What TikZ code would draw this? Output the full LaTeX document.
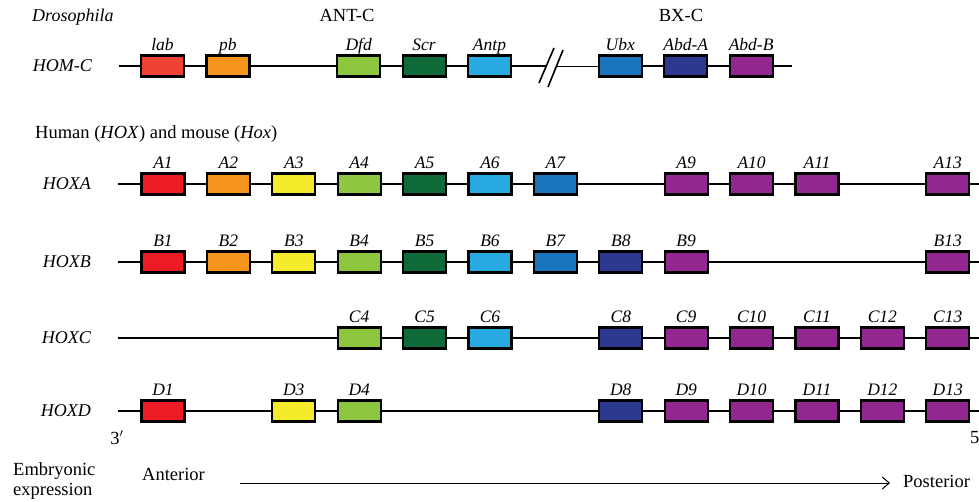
\documentclass[tikz,border=0pt]{standalone}
\usepackage{fontspec}
\setmainfont{Liberation Serif}
\usetikzlibrary{arrows.meta}
\definecolor{cLab}{HTML}{EF4136}
\definecolor{cRed}{HTML}{ED1C24}
\definecolor{cOrange}{HTML}{F7941D}
\definecolor{cYellow}{HTML}{F4EB2A}
\definecolor{cLgreen}{HTML}{8DC63F}
\definecolor{cDgreen}{HTML}{0F6A3A}
\definecolor{cLblue}{HTML}{27AAE1}
\definecolor{cMblue}{HTML}{1B75BC}
\definecolor{cDblue}{HTML}{2B3990}
\definecolor{cPurple}{HTML}{92278F}
\begin{document}
\begin{tikzpicture}[x=1pt,y=-1pt,
  gene/.style={draw=black, line width=2.2pt, minimum width=43pt, minimum height=21pt, inner sep=0pt, fill=#1},
  glab/.style={font=\fontsize{17.5}{17.5}\selectfont\itshape, inner sep=0pt, anchor=base},
  rowlab/.style={font=\fontsize{18}{18}\selectfont\itshape, inner sep=0pt, anchor=base east},
  txt/.style={font=\fontsize{18.5}{18.5}\selectfont, inner sep=0pt},
  chrom/.style={line width=2.5pt},
  thinchrom/.style={line width=1pt},
  slash/.style={line width=1.6pt}]
\useasboundingbox (0,0) rectangle (979,501);

% ---------- Drosophila ----------
\node[txt, font=\fontsize{18}{18}\selectfont\itshape, anchor=base west] (dros) at (32,21) {Drosophila};
\node[txt, anchor=base] (antc) at (347,21) {ANT-C};
\node[txt, anchor=base] (bxc) at (681,21) {BX-C};
\node[rowlab] (homc) at (92,71) {HOM-C};

\coordinate (homS) at (119,66);
\coordinate (homB1) at (546,66);
\coordinate (homB2) at (557,66);
\coordinate (homE) at (792,66);
\coordinate (s1a) at (539,83); \coordinate (s1b) at (554,48);
\coordinate (s2a) at (548,87); \coordinate (s2b) at (563,50);

\draw[chrom] (homS) -- (homB1);
\foreach \s/\c/\n/\t in {1/cLab/lab/lab, 2/cOrange/pb/pb, 4/cLgreen/dfd/Dfd, 5/cDgreen/scr/Scr, 6/cLblue/antp/Antp, 8/cMblue/ubx/Ubx, 9/cDblue/abda/Abd-A, 10/cPurple/abdb/Abd-B}{
  \node[gene=\c] (\n) at ({162.5+(\s-1)*65.4},66) {};
  \node[glab] (l\n) at ({162.5+(\s-1)*65.4},50) {\t};
}
\draw[thinchrom] (homB2) -- (ubx.west);
\draw[chrom] (ubx.east) -- (abda.west) (abda.east) -- (abdb.west);
\draw[chrom] (abdb.east) -- (homE);
\draw[chrom] (lab.east) -- (pb.west) (pb.east) -- (dfd.west) (dfd.east) -- (scr.west) (scr.east) -- (antp.west);
\draw[slash] (s1a) -- (s1b);
\draw[slash] (s2a) -- (s2b);

% ---------- Human / mouse ----------
\node[txt, anchor=base west] (hum) at (35,138) {Human (\textit{HOX}) and mouse (\textit{Hox})};

% HOXA
\node[rowlab] (hoxa) at (91,189) {HOXA};
\coordinate (aS) at (118,184); \coordinate (aE) at (985,184);
\draw[chrom] (aS) -- (aE);
\foreach \s/\c in {1/cRed, 2/cOrange, 3/cYellow, 4/cLgreen, 5/cDgreen, 6/cLblue, 7/cMblue, 9/cPurple, 10/cPurple, 11/cPurple, 13/cPurple}{
  \node[gene=\c] (a\s) at ({163+(\s-1)*65.4},184) {};
  \node[glab] (la\s) at ({163+(\s-1)*65.4},168) {A\s};
}

% HOXB
\node[rowlab] (hoxb) at (91,267) {HOXB};
\coordinate (bS) at (118,262); \coordinate (bE) at (985,262);
\draw[chrom] (bS) -- (bE);
\foreach \s/\c in {1/cRed, 2/cOrange, 3/cYellow, 4/cLgreen, 5/cDgreen, 6/cLblue, 7/cMblue, 8/cDblue, 9/cPurple, 13/cPurple}{
  \node[gene=\c] (b\s) at ({163+(\s-1)*65.4},262) {};
  \node[glab] (lb\s) at ({163+(\s-1)*65.4},246) {B\s};
}

% HOXC
\node[rowlab] (hoxc) at (91,343) {HOXC};
\coordinate (cS) at (118,338); \coordinate (cE) at (985,338);
\draw[chrom] (cS) -- (cE);
\foreach \s/\c in {4/cLgreen, 5/cDgreen, 6/cLblue, 8/cDblue, 9/cPurple, 10/cPurple, 11/cPurple, 12/cPurple, 13/cPurple}{
  \node[gene=\c] (c\s) at ({163+(\s-1)*65.4},338) {};
  \node[glab] (lc\s) at ({163+(\s-1)*65.4},322) {C\s};
}

% HOXD
\node[rowlab] (hoxd) at (91,416) {HOXD};
\coordinate (dS) at (118,411); \coordinate (dE) at (985,411);
\draw[chrom] (dS) -- (dE);
\foreach \s/\c in {1/cRed, 3/cYellow, 4/cLgreen, 8/cDblue, 9/cPurple, 10/cPurple, 11/cPurple, 12/cPurple, 13/cPurple}{
  \node[gene=\c] (d\s) at ({163+(\s-1)*65.4},411) {};
  \node[glab] (ld\s) at ({163+(\s-1)*65.4},395) {D\s};
}

\node[txt, anchor=base] (three) at (117,444) {3$'$};
\node[txt, anchor=base west] (five) at (970,443) {5$'$};

% ---------- Embryonic expression ----------
\node[txt, anchor=base west] (emb1) at (13,475) {Embryonic};
\node[txt, anchor=base west] (emb2) at (13,495) {expression};
\node[txt, anchor=base west] (ant) at (142,480) {Anterior};
\node[txt, anchor=base west] (post) at (903,487) {Posterior};
\coordinate (arS) at (240,483);
\coordinate (arE) at (890,483);
\draw[line width=1pt, -{Straight Barb[length=7pt,width=12pt,line width=1pt]}] (arS) -- (arE);
\end{tikzpicture}
\end{document}
